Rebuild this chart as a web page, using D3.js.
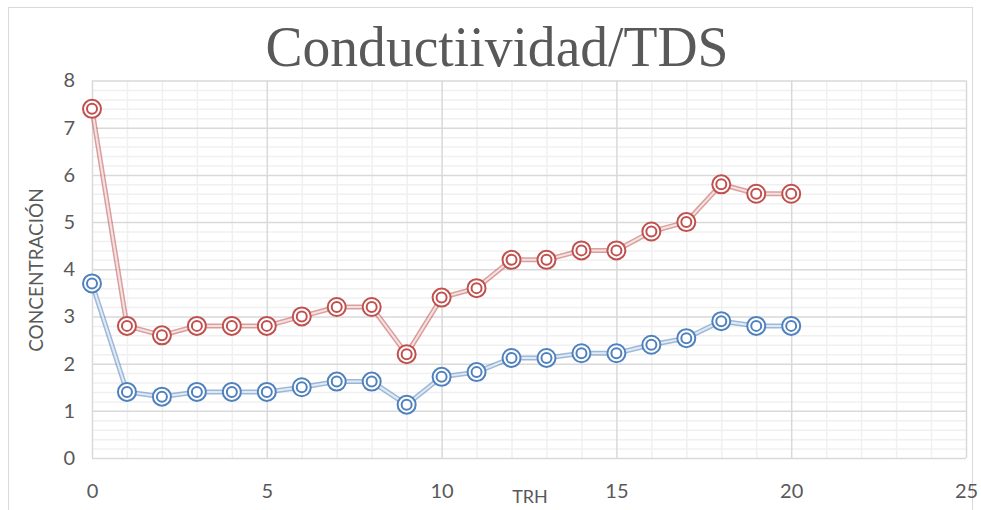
<!DOCTYPE html>
<html><head><meta charset="utf-8">
<script src="https://cdn.jsdelivr.net/npm/d3@7"></script>
<style>body{margin:0;background:#fff}svg{display:block}</style>
</head><body>
<script>
const xValues = [0,1,2,3,4,5,6,7,8,9,10,11,12,13,14,15,16,17,18,19,20];
const conductividad = [7.4,2.8,2.6,2.8,2.8,2.8,3.0,3.2,3.2,2.2,3.4,3.6,4.2,4.2,4.4,4.4,4.8,5.0,5.8,5.6,5.6];
const tds = [3.7,1.4,1.3,1.4,1.4,1.4,1.5,1.62,1.62,1.13,1.72,1.82,2.12,2.12,2.22,2.22,2.4,2.54,2.9,2.8,2.8];
const xTicks = [0,5,10,15,20,25];
const yTicks = [0,1,2,3,4,5,6,7,8];
const title = "Conductiividad/TDS";
const xLabel = "TRH";
const yLabel = "CONCENTRACIÓN";

const W = 981, H = 510;
const svg = d3.select("body").append("svg").attr("width", W).attr("height", H);
svg.append("rect").attr("x",8.5).attr("y",7.5).attr("width",W-17).attr("height",H).attr("fill","#fff").attr("stroke","#d9d9d9");

const x = d3.scaleLinear().domain([0,25]).range([92,966]);
const y = d3.scaleLinear().domain([0,8]).range([458,80.5]);

// minor grid
const gMinor = svg.append("g");
gMinor.append("g").attr("transform","translate(0,458)")
  .call(d3.axisBottom(x).tickValues(d3.range(0,26,1).filter(v=>v%5!==0)).tickSize(-(458-80.5)).tickFormat(""))
  .call(g=>g.select(".domain").remove())
  .call(g=>g.selectAll("line").attr("stroke","#f0f0f0").attr("stroke-width",1.5));
gMinor.append("g").attr("transform","translate(92,0)")
  .call(d3.axisLeft(y).tickValues(d3.range(0,40,1).map(v=>v*0.2).filter(v=>Math.abs(v-Math.round(v))>1e-6)).tickSize(-(966-92)).tickFormat(""))
  .call(g=>g.select(".domain").remove())
  .call(g=>g.selectAll("line").attr("stroke","#f0f0f0").attr("stroke-width",1.5));
// major grid
svg.append("g").attr("transform","translate(0,458)")
  .call(d3.axisBottom(x).tickValues(xTicks).tickSize(-(458-80.5)).tickFormat(""))
  .call(g=>g.select(".domain").remove())
  .call(g=>g.selectAll("line").attr("stroke","#d9d9d9").attr("stroke-width",1.5));
svg.append("g").attr("transform","translate(92,0)")
  .call(d3.axisLeft(y).tickValues(yTicks).tickSize(-(966-92)).tickFormat(""))
  .call(g=>g.select(".domain").remove())
  .call(g=>g.selectAll("line").attr("stroke","#d9d9d9").attr("stroke-width",1.5));

// tick labels
svg.append("g").attr("transform","translate(92,0)")
  .call(d3.axisLeft(y).tickValues(yTicks).tickSize(0).tickPadding(17))
  .call(g=>g.select(".domain").remove())
  .call(g=>g.selectAll("text").attr("font-family","Lato, 'Open Sans', sans-serif").attr("font-size",20).attr("fill","#595959"));
svg.append("g").attr("transform","translate(0,458)")
  .call(d3.axisBottom(x).tickValues(xTicks).tickSize(0).tickPadding(26))
  .call(g=>g.select(".domain").remove())
  .call(g=>g.selectAll("text").attr("font-family","Lato, 'Open Sans', sans-serif").attr("font-size",20).attr("fill","#595959"));

// titles
svg.append("text").attr("x",497).attr("y",66).attr("text-anchor","middle")
  .attr("font-family","'Liberation Serif', serif").attr("font-size",58).attr("fill","#595959")
  .attr("textLength",463).attr("lengthAdjust","spacingAndGlyphs").text(title);
svg.append("text").attr("x",530).attr("y",503).attr("text-anchor","middle")
  .attr("font-family","Lato, 'Open Sans', sans-serif").attr("font-size",18).attr("fill","#595959").text(xLabel);
svg.append("text").attr("transform","translate(43,270) rotate(-90)").attr("text-anchor","middle")
  .attr("font-family","Lato, 'Open Sans', sans-serif").attr("font-size",19).attr("fill","#595959").text(yLabel);

const series = [
  {vals: conductividad, color:"#C0504D"},
  {vals: tds, color:"#4F81BD"}
];
const line = d3.line().x((d,i)=>x(xValues[i])).y(d=>y(d));
series.forEach(s=>{
  svg.append("path").datum(s.vals).attr("d",line).attr("fill","none").attr("stroke",s.color).attr("stroke-opacity",0.55).attr("stroke-width",5);
  svg.append("path").datum(s.vals).attr("d",line).attr("fill","none").attr("stroke","#fff").attr("stroke-opacity",0.7).attr("stroke-width",2);
  const g = svg.append("g");
  g.selectAll("circle.o").data(s.vals).join("circle").attr("class","o")
    .attr("cx",(d,i)=>x(xValues[i])).attr("cy",d=>y(d)).attr("r",9)
    .attr("fill","#fff").attr("stroke",s.color).attr("stroke-width",2);
  g.selectAll("circle.i").data(s.vals).join("circle").attr("class","i")
    .attr("cx",(d,i)=>x(xValues[i])).attr("cy",d=>y(d)).attr("r",5)
    .attr("fill","none").attr("stroke",s.color).attr("stroke-width",2);
});
</script>
</body></html>
